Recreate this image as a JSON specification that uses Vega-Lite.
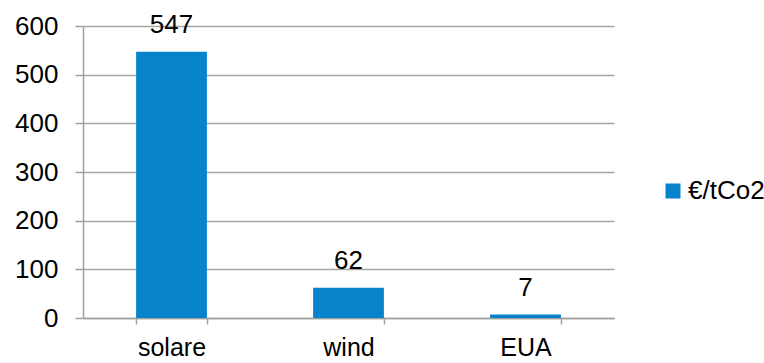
{
  "$schema": "https://vega.github.io/schema/vega-lite/v6.json",
  "width": 531,
  "height": 292,
  "autosize": {"type": "none"},
  "padding": {"left": 83, "top": 26, "right": 150, "bottom": 45},
  "config": {"view": {"stroke": null}, "font": "Liberation Sans"},
  "data": {
    "values": [
      {"cat": "solare", "value": 547, "series": "€/tCo2"},
      {"cat": "wind", "value": 62, "series": "€/tCo2"},
      {"cat": "EUA", "value": 7, "series": "€/tCo2"}
    ]
  },
  "encoding": {
    "x": {
      "field": "cat", "type": "nominal", "sort": null,
      "scale": {"paddingInner": 0.6, "paddingOuter": 0.3},
      "axis": {"title": null, "labelAngle": 0, "labelFontSize": 25, "labelColor": "#000000",
        "tickBand": "extent", "domainColor": "#a0a0a0", "tickColor": "#a0a0a0", "domainWidth": 1.5, "tickWidth": 1.5,
        "tickSize": 6, "labelPadding": 11, "grid": false}
    },
    "y": {
      "field": "value", "type": "quantitative",
      "scale": {"domain": [0, 600], "nice": false},
      "axis": {"title": null, "values": [0, 100, 200, 300, 400, 500, 600], "grid": true,
        "gridColor": "#a6a6a6", "gridWidth": 1.5, "domainColor": "#a0a0a0", "domainWidth": 1.5,
        "tickColor": "#a0a0a0", "tickWidth": 1.5, "tickSize": 8, "labelPadding": 17,
        "labelFontSize": 26, "labelColor": "#000000"}
    }
  },
  "layer": [
    {
      "mark": {"type": "bar"},
      "encoding": {
        "color": {
          "field": "series", "type": "nominal",
          "scale": {"range": ["#0683cb"]},
          "legend": {"title": null, "orient": "none", "legendX": 577, "legendY": 152,
            "symbolType": "square", "symbolSize": 225, "symbolStrokeWidth": 0,
            "labelFontSize": 26, "labelColor": "#000000", "labelOffset": 2}
        }
      }
    },
    {
      "mark": {"type": "text", "baseline": "alphabetic", "dy": -19, "fontSize": 26, "color": "#000000"},
      "encoding": {"text": {"field": "value", "type": "quantitative"}}
    }
  ]
}
